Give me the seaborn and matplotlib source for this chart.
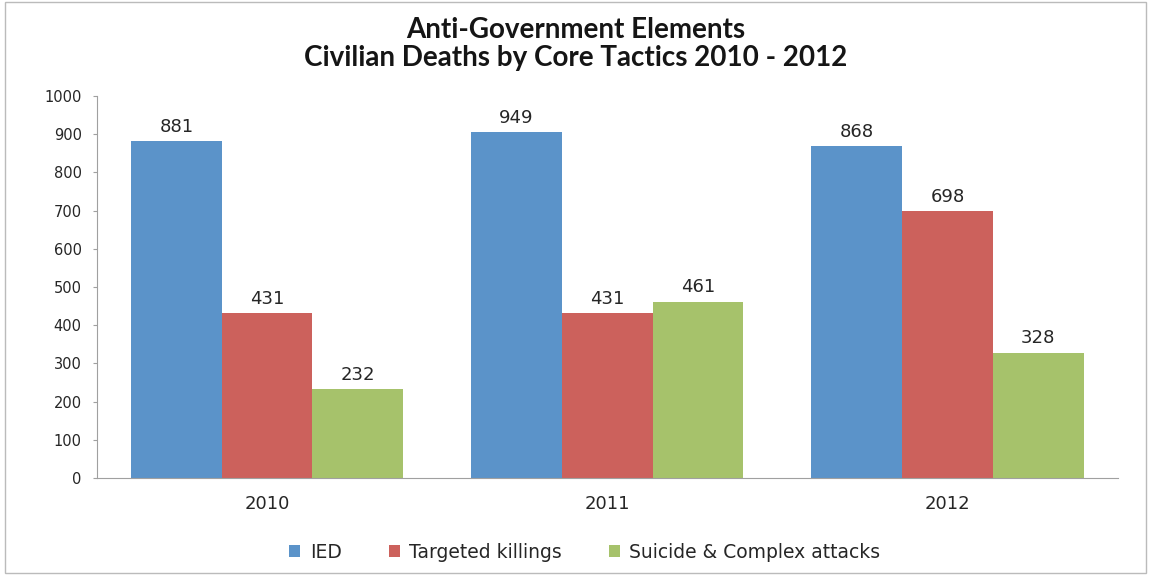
import pandas as pd
import seaborn as sns
import matplotlib.pyplot as plt
from matplotlib.patches import Rectangle

# dados
anos = ["2010", "2011", "2012"]
taticas = ["IED", "Targeted killings", "Suicide & Complex attacks"]
ied = [881, 905, 868]          # altura desenhada das barras
ied_rotulos = [881, 949, 868]  # rotulo escrito (2011 esta diferente da barra)
targeted = [431, 431, 698]
suicide = [232, 461, 328]
cores = ["#5B93C9", "#CC615C", "#A6C26B"]

tabela = pd.DataFrame({
    "Ano": anos * 3,
    "Tatica": [taticas[0]] * 3 + [taticas[1]] * 3 + [taticas[2]] * 3,
    "Mortes": ied + targeted + suicide,
})

sns.set_style("white")
plt.rcParams["font.family"] = ["DejaVu Sans"]

fig = plt.figure(figsize=(11.51, 5.75), dpi=100)
ax = fig.add_axes([0.0843, 0.1687, 0.8867, 0.6643])

sns.barplot(data=tabela, x="Ano", y="Mortes", hue="Tatica", palette=cores,
            width=0.8, saturation=1, linewidth=0, ax=ax, legend=True)

# rotulos em cima das barras
for cont, grupo in zip(ax.containers, [ied_rotulos, targeted, suicide]):
    ax.bar_label(cont, labels=[str(v) for v in grupo], padding=4,
                 fontsize=13, color="#262626")

ax.set_ylim(0, 1000)
ax.set_yticks(range(0, 1001, 100))
ax.set_xlim(-0.5, 2.5)
ax.set_xlabel("")
ax.set_ylabel("")
ax.tick_params(axis="y", labelsize=10.5, labelcolor="#262626", length=3, width=0.8,
               direction="out", left=True, color="#A0A0A0", pad=8)
ax.tick_params(axis="x", labelsize=13, labelcolor="#262626", length=0, pad=12)
for lado in ["top", "right"]:
    ax.spines[lado].set_visible(False)
ax.spines["left"].set_color("#A0A0A0")
ax.spines["bottom"].set_color("#A0A0A0")

# titulo em duas linhas
fig.text(0.5, 0.948, "Anti-Government Elements", ha="center", va="center",
         fontsize=20, fontweight="bold", family=["Lato", "DejaVu Sans"], color="#151515")
fig.text(0.5, 0.899, "Civilian Deaths by Core Tactics 2010 - 2012", ha="center", va="center",
         fontsize=20, fontweight="bold", family=["Lato", "DejaVu Sans"], color="#151515")

leg = ax.legend(loc="center", bbox_to_anchor=(0.478, -0.194), ncol=3,
                frameon=False, fontsize=13.5, handlelength=0.6, handleheight=0.6,
                columnspacing=2.5, handletextpad=0.5)
for t in leg.get_texts():
    t.set_color("#262626")

# borda fina da figura
fig.patches.append(Rectangle((0.004, 0.004), 0.992, 0.992, transform=fig.transFigure,
                             fill=False, edgecolor="#BBBBBB", linewidth=1))

fig.savefig("out.png", dpi=100)
